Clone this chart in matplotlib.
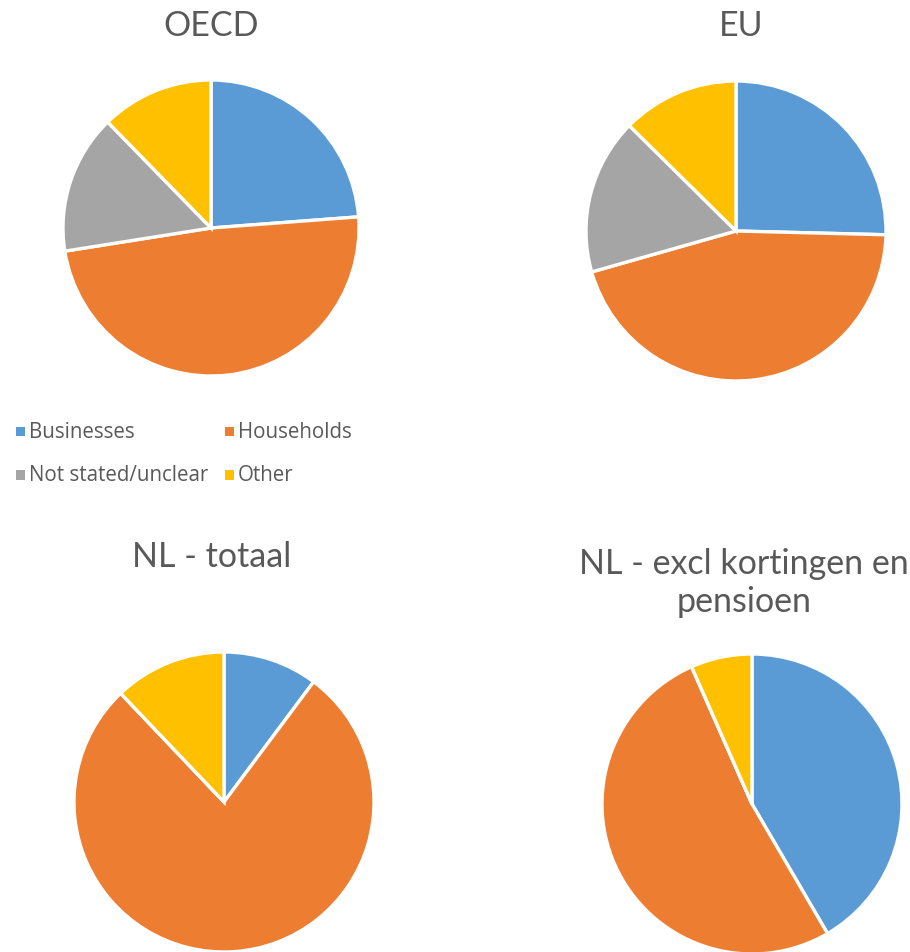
import matplotlib
matplotlib.use("Agg")
import matplotlib.pyplot as plt
from matplotlib.patches import Rectangle

categories = ["Businesses", "Households", "Not stated/unclear", "Other"]
colors = ["#5B9BD5", "#ED7D31", "#A5A5A5", "#FFC000"]

oecd = [23.8, 48.7, 15.2, 12.3]
eu = [25.4, 45.2, 16.8, 12.6]
nl_totaal = [10.2, 77.7, 0.0, 12.1]
nl_excl = [41.6, 51.8, 0.0, 6.6]

charts = [
    ("OECD", oecd, (211, 229), 148, (211, 26)),
    ("EU", eu, (736, 232), 150, (741, 26)),
    ("NL - totaal", nl_totaal, (224, 803), 150, (212, 557)),
    ("NL - excl kortingen en\npensioen", nl_excl, (752, 805), 150, (744, 583)),
]

W, H = 910, 953
fig = plt.figure(figsize=(W / 100, H / 100), dpi=100)
fig.patch.set_facecolor("white")
FONT = "Lato"
TXT = "#595959"

for title, vals, (cx, cy), r, (tx, ty) in charts:
    ax = fig.add_axes([(cx - r) / W, (H - cy - r) / H, 2 * r / W, 2 * r / H])
    ax.pie(vals, colors=colors, startangle=90, counterclock=False,
           wedgeprops=dict(edgecolor="white", linewidth=2.4))
    ax.set_xlim(-1, 1)
    ax.set_ylim(-1, 1)
    ax.set_aspect("equal")
    ax.axis("off")
    for p in ax.patches:
        p.set_clip_on(False)
    fig.text(tx / W, 1 - ty / H, title, ha="center", va="center",
             fontsize=24.5, color=TXT, family=FONT, linespacing=1.25)

legend_pos = [(16, 432), (225, 432), (16, 476), (225, 476)]
for (lx, ly), lab, col in zip(legend_pos, categories, colors):
    fig.patches.append(Rectangle((lx / W, 1 - (ly + 4.5) / H), 9 / W, 9 / H,
                                 transform=fig.transFigure, facecolor=col,
                                 edgecolor="none"))
    fig.text((lx + 13) / W, 1 - ly / H, lab, ha="left", va="center",
             fontsize=14.8, color=TXT, family="Open Sans")

fig.savefig("out.png", dpi=100, facecolor="white")
